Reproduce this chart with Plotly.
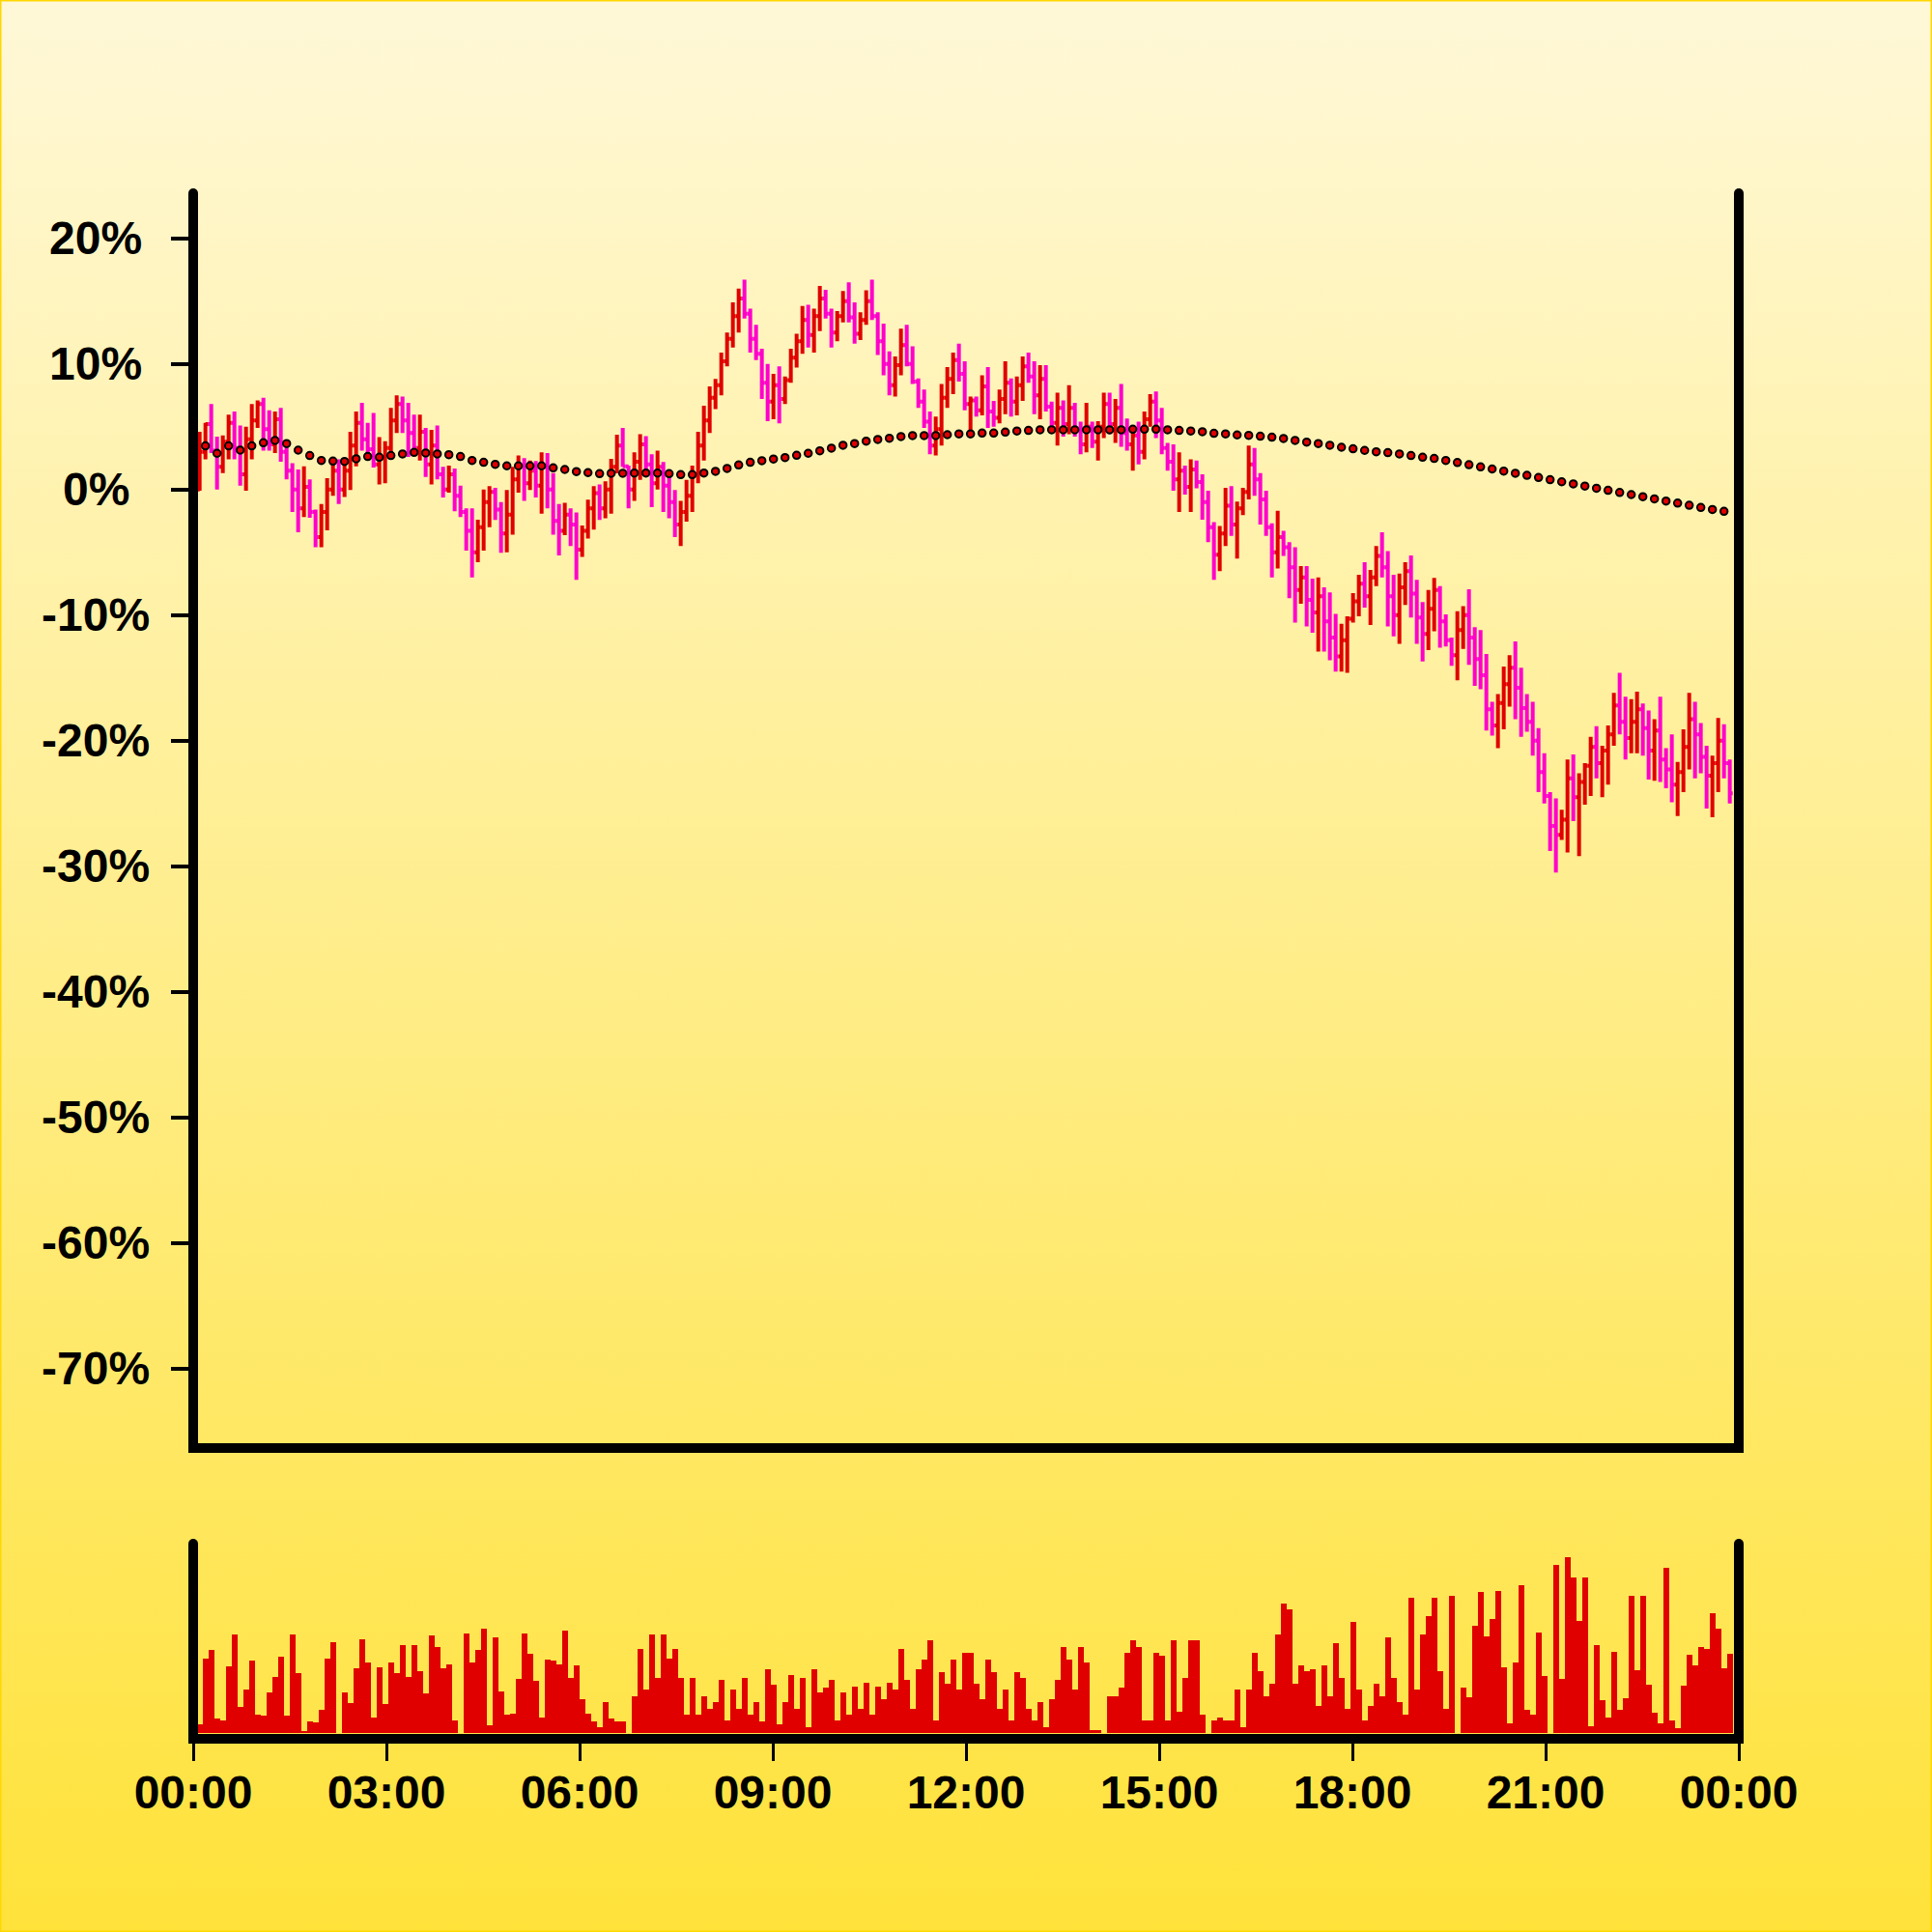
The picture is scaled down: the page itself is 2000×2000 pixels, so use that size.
import base64
import pandas as pd
import plotly.graph_objects as go

# ---------------- data (percent change vs. first open) ----------------
start_time = "2024-01-01 00:06:00"
bar_step = "324s"
day_start = "2024-01-01 00:00:00"
day_end = "2024-01-02 00:00:00"

closes = [
    3.0, 5.2, 3.1, 1.8, 3.8, 5.3, 3.3, 1.2, 4.0, 5.5,
    6.8, 4.8, 3.6, 5.6, 3.0, 1.5, 0.0, -1.5, 0.2, -1.8,
    -3.8, -1.8, 0.0, 1.5, 0.0, 1.5, 3.5, 5.3, 4.0, 3.2,
    2.0, 2.5, 3.3, 5.5, 6.8, 5.5, 4.5, 3.3, 4.6, 2.0,
    3.5, 1.2, 0.0, 1.2, -0.5, -1.8, -3.3, -5.0, -3.0, -1.0,
    -0.2, -1.6, -3.5, -2.0, 0.8, 1.9, 0.5, 1.5, 0.3, 1.8,
    0.0, -2.5, -3.3, -2.0, -2.8, -4.8, -3.3, -1.5, -0.3, -1.5,
    0.0, 1.8, 3.5, 1.85, 0.0, 2.2, 3.6, 2.0, 0.5, 1.8,
    0.3, -1.0, -2.8, -1.8, -0.5, 1.2, 3.5, 5.5, 7.3, 8.3,
    10.2, 12.0, 13.8, 15.2, 14.0, 12.0, 10.8, 8.5, 7.0, 8.3,
    7.2, 8.7, 10.5, 11.8, 13.5, 12.3, 13.8, 15.2, 14.0, 12.5,
    13.8, 15.0, 13.7, 12.4, 13.5, 15.0, 13.8, 11.8, 10.0, 8.3,
    9.9, 11.5, 10.0, 8.6, 7.0, 5.4, 3.5, 4.8, 7.3, 8.8,
    10.3, 9.2, 6.8, 7.1, 6.3, 8.2, 6.2, 5.7, 7.2, 8.5,
    7.0, 8.3, 9.8, 9.0, 7.5, 8.8, 6.6, 5.3, 6.5, 5.2,
    6.5, 4.8, 3.6, 5.0, 3.8, 5.0, 6.8, 5.2, 6.5, 4.5,
    3.6, 4.3, 3.0, 5.6, 7.0, 5.5, 3.3, 2.2, 0.8, 1.5,
    0.2, 1.6, 0.6, -1.0, -3.0, -5.2, -3.5, -1.3, -2.8, -1.5,
    -0.2, 2.0, 0.8, -0.8, -3.0, -5.0, -3.8, -4.6, -6.2, -8.0,
    -7.0, -8.8, -9.8, -8.5, -10.5, -11.8, -13.3, -12.0, -10.3, -8.9,
    -7.5, -8.5, -7.0, -5.3, -6.2, -8.5, -10.0, -7.8, -6.5, -8.3,
    -10.2, -11.5, -9.5, -8.0, -10.5, -12.0, -13.2, -11.2, -10.0, -11.8,
    -13.5, -14.8, -17.5, -18.8, -17.0, -15.5, -14.2, -15.8, -17.4, -18.5,
    -20.0, -22.5, -24.4, -26.8, -27.5, -26.3, -23.0, -24.5, -23.3, -22.0,
    -20.5, -21.8, -20.8, -19.5, -17.2, -18.5, -19.8, -18.5, -17.5, -19.0,
    -20.8, -19.2, -21.5, -22.3, -23.5, -22.5, -20.5, -18.3, -19.5, -21.3,
    -22.8, -21.8, -20.0, -21.8, -24.2,
]

highs = [
    4.6, 5.3, 6.8, 4.2, 4.3, 5.95, 6.2, 5.1, 5.0, 6.8,
    7.1, 7.3, 6.3, 6.2, 6.5, 3.9, 2.1, 1.6, 1.85, 0.8,
    -1.6, -1.15, 0.9, 2.3, 2.4, 2.2, 4.6, 6.2, 6.9, 5.3,
    6.1, 4.16, 3.85, 6.5, 7.5, 7.4, 6.9, 5.95, 5.95, 4.9,
    4.75, 5.1, 1.8, 1.9, 1.67, 0.3, -1.5, -1.5, -2.4, 0.0,
    0.26, 0.13, -1.0, -0.05, 1.8, 2.7, 2.5, 2.3, 2.26, 2.95,
    2.9, 1.3, -1.15, -1.07, -1.5, -1.84, -2.87, -0.82, 0.26, 0.4,
    0.65, 2.44, 4.36, 4.9, 1.9, 2.95, 4.4, 4.24, 2.8, 3.1,
    2.18, 1.08, -0.05, -0.9, 0.77, 1.9, 4.6, 6.67, 8.2, 8.8,
    10.9, 12.5, 14.9, 16.0, 16.7, 14.4, 13.1, 11.2, 10.0, 9.2,
    9.8, 9.0, 11.2, 12.4, 14.6, 14.7, 14.4, 16.2, 15.9, 14.4,
    14.2, 15.8, 16.5, 14.9, 14.1, 15.85, 16.7, 14.1, 13.2, 11.0,
    10.6, 12.8, 13.1, 11.4, 8.85, 7.95, 6.2, 5.8, 8.4, 9.75,
    10.9, 11.6, 10.2, 7.4, 7.4, 9.1, 9.75, 7.06, 7.95, 10.2,
    8.85, 9.0, 10.6, 10.9, 10.2, 9.9, 9.9, 7.0, 7.7, 7.1,
    8.3, 6.9, 5.4, 6.9, 5.4, 5.44, 7.7, 7.7, 7.2, 8.4,
    5.65, 5.1, 5.4, 6.2, 7.6, 7.8, 6.5, 3.7, 3.6, 2.96,
    1.9, 2.4, 2.3, 1.2, -0.1, -2.6, -2.9, 0.13, 0.26, -0.97,
    0.13, 3.5, 3.3, 1.3, -0.1, -2.7, -1.7, -3.3, -4.2, -4.6,
    -6.1, -6.1, -7.1, -7.0, -7.8, -8.2, -9.9, -10.7, -10.1, -8.25,
    -6.8, -5.8, -6.4, -4.5, -3.4, -4.9, -6.8, -6.7, -5.8, -5.25,
    -7.2, -8.97, -8.0, -7.05, -7.7, -9.95, -11.8, -9.7, -9.3, -7.95,
    -10.97, -11.2, -13.1, -16.9, -16.3, -14.1, -13.2, -12.1, -14.2, -16.3,
    -16.9, -19.0, -21.0, -24.1, -24.6, -25.5, -21.5, -21.1, -22.6, -21.8,
    -19.7, -18.85, -20.4, -18.8, -16.2, -14.6, -16.5, -16.7, -16.1, -17.05,
    -17.6, -18.3, -16.5, -20.6, -19.5, -21.7, -19.1, -16.2, -16.9, -18.6,
    -20.4, -21.2, -18.2, -18.7, -21.5,
]

lows = [
    -0.1, 2.4, 2.9, 0.0, 1.3, 2.4, 2.4, 0.3, -0.1, 2.4,
    4.9, 3.1, 3.1, 2.9, 2.2, 0.8, -1.8, -3.4, -2.2, -2.25,
    -4.6, -4.6, -3.25, -0.5, -1.15, -0.6, -0.05, 1.85, 3.1, 2.4,
    1.75, 0.4, 0.5, 2.6, 4.5, 4.5, 2.6, 2.7, 2.3, 1.0,
    0.4, 0.8, -0.64, -0.25, -1.74, -2.2, -4.87, -7.0, -5.8, -4.87,
    -3.0, -2.43, -5.05, -5.0, -3.6, -0.25, -0.9, -0.05, -0.64, -1.92,
    -1.5, -3.6, -5.25, -3.64, -4.5, -7.2, -5.38, -3.9, -3.2, -2.43,
    -2.3, -1.92, 1.28, 1.8, -1.5, -0.9, 0.77, 1.28, -1.4, 0.0,
    -1.8, -2.3, -3.8, -4.5, -2.56, -1.8, 0.5, 2.3, 4.5, 6.4,
    7.5, 9.8, 11.3, 12.5, 13.6, 10.9, 10.3, 7.2, 5.44, 5.6,
    5.26, 6.8, 8.5, 9.7, 10.8, 11.3, 10.9, 12.6, 13.6, 11.3,
    11.8, 13.3, 13.3, 11.6, 11.9, 13.1, 13.5, 10.7, 9.1, 7.5,
    7.4, 9.1, 9.8, 8.4, 6.5, 4.9, 2.8, 2.7, 3.5, 6.5,
    7.6, 8.6, 6.3, 4.6, 5.8, 5.9, 4.9, 5.0, 5.26, 6.0,
    5.8, 5.9, 7.06, 8.5, 6.0, 5.6, 6.2, 4.9, 3.5, 4.2,
    4.4, 4.2, 2.8, 2.95, 3.3, 2.3, 4.1, 4.4, 3.7, 3.4,
    3.1, 1.5, 2.0, 2.4, 5.0, 4.1, 2.8, 1.5, -0.1, -1.8,
    -0.4, -1.8, 0.1, -2.4, -4.2, -7.2, -6.5, -4.5, -3.7, -5.5,
    -2.05, -0.8, -0.5, -2.8, -3.7, -7.0, -6.3, -5.3, -8.66, -10.6,
    -9.1, -10.9, -11.4, -12.9, -12.9, -13.6, -14.5, -14.5, -14.6, -10.6,
    -10.1, -9.4, -10.8, -7.7, -7.0, -10.9, -11.7, -12.3, -9.2, -10.2,
    -12.3, -13.7, -12.8, -11.3, -12.6, -12.5, -14.05, -15.2, -12.7, -13.97,
    -15.64, -15.9, -19.2, -19.6, -20.6, -19.1, -17.3, -18.3, -19.7, -19.3,
    -21.2, -24.1, -25.0, -28.8, -30.5, -27.9, -28.9, -26.4, -29.2, -25.1,
    -24.4, -23.0, -24.5, -23.5, -20.4, -19.5, -21.5, -21.0, -21.0, -21.2,
    -23.1, -23.2, -23.3, -23.8, -24.9, -26.0, -24.1, -22.3, -23.0, -22.6,
    -25.4, -26.1, -24.1, -23.0, -25.0,
]

volumes = [
    9, 77, 86, 15, 13, 69, 102, 27, 45, 75,
    19, 18, 42, 58, 79, 18, 102, 62, 2, 12,
    11, 24, 77, 94, 0, 42, 31, 67, 97, 73,
    16, 68, 30, 73, 62, 91, 58, 91, 64, 41,
    101, 89, 67, 71, 13, 0, 103, 73, 86, 108,
    8, 99, 43, 19, 20, 56, 103, 82, 54, 16,
    76, 75, 71,
    106, 57, 70, 35, 20, 12, 6, 32, 15, 12,
    12, 0, 38, 87, 45, 102, 57, 102, 77, 87,
    57, 19, 57, 19, 38, 25, 32, 55, 13, 45,
    25, 57, 19, 32, 12, 66, 50, 9, 32, 60,
    25, 57, 6, 66, 42, 47, 55, 13, 42, 19,
    48, 25, 52, 19, 48, 35, 52, 45, 87, 55,
    25, 66, 76, 96, 13, 63, 51, 76, 45, 83,
    83, 51, 35, 76, 63, 25, 45, 13, 63, 57,
    25, 13, 32, 6, 35, 55, 89, 76, 45, 89,
    73, 3, 3, 0, 38, 38, 47, 83, 96, 89,
    13, 13, 83, 80, 13, 96, 22, 57, 96, 96,
    19, 0, 13, 16, 13, 13, 45, 6, 45, 83,
    64, 38, 51, 102, 134, 128, 51, 70, 64, 66,
    28, 70, 38, 93, 57, 25, 115, 45, 13, 28,
    51, 38, 99, 57, 32, 19, 140, 45, 102, 121,
    140, 64, 25,
    142, 0, 47, 37, 111, 146, 100, 118, 147, 68,
    10, 73, 153, 24, 19, 104, 59, 0, 174, 56,
    182, 161, 116, 161, 7, 91, 34, 16, 84, 24,
    36, 142, 65, 142, 50, 21, 10, 171, 13, 5,
    49, 81, 70, 89, 87, 124, 108, 67, 82,
]

# smooth average, one value every second bar
ma_values = [
    3.47, 2.88, 3.47, 3.13, 3.47, 3.72, 3.9, 3.65, 3.13, 2.7,
    2.31, 2.26, 2.23, 2.44, 2.62, 2.57, 2.7, 2.83, 2.95, 2.9,
    2.83, 2.77, 2.62, 2.31, 2.16, 2.0, 1.88,
    1.88, 1.88, 1.88, 1.72, 1.59, 1.42, 1.34, 1.26, 1.29, 1.29,
    1.31, 1.31, 1.31, 1.26, 1.18, 1.18, 1.31, 1.44, 1.67, 1.95,
    2.16, 2.29, 2.42, 2.54, 2.72, 2.88, 3.08,
    3.29, 3.52, 3.65, 3.85, 3.98, 4.08, 4.21, 4.29, 4.29, 4.29,
    4.36, 4.42, 4.42, 4.49, 4.49, 4.57, 4.65, 4.7, 4.75, 4.75,
    4.75, 4.75, 4.75, 4.75, 4.75, 4.75,
    4.8, 4.8, 4.8, 4.75, 4.7, 4.65, 4.6, 4.47, 4.42, 4.34,
    4.31, 4.24, 4.16, 4.06, 3.9, 3.77, 3.65, 3.52, 3.36, 3.24,
    3.11, 3.0, 2.93, 2.83, 2.7, 2.57, 2.47,
    2.31, 2.14, 1.97, 1.8, 1.63, 1.46, 1.29, 1.12, 0.95, 0.78,
    0.61, 0.44, 0.27, 0.1, -0.07, -0.24, -0.41, -0.58, -0.75, -0.92,
    -1.09, -1.26, -1.43, -1.6, -1.74,
]

y_tick_values = [20, 10, 0, -10, -20, -30, -40, -50, -60, -70]
y_tick_labels = ["20%", "10%", "0%", "-10%", "-20%", "-30%", "-40%", "-50%", "-60%", "-70%"]

# ---------------- styling ----------------
UP = "#E00000"
DOWN = "#FF00CC"
FONT = "Liberation Sans"

times = pd.date_range(start_time, periods=len(closes), freq=bar_step)
opens = [0.0] + closes[:-1]
ma_times = times[1::2]
bar_ms = pd.Timedelta(bar_step).total_seconds() * 1000

fig = go.Figure()
fig.add_trace(go.Ohlc(
    x=times, open=opens, high=highs, low=lows, close=closes,
    increasing=dict(line=dict(color=UP, width=4)),
    decreasing=dict(line=dict(color=DOWN, width=4)),
    tickwidth=0.5, xaxis="x", yaxis="y", showlegend=False, hoverinfo="skip",
))
fig.add_trace(go.Scatter(
    x=ma_times, y=ma_values, mode="markers",
    marker=dict(size=7.5, color=UP, line=dict(color="black", width=2)),
    xaxis="x", yaxis="y", showlegend=False, hoverinfo="skip",
))
fig.add_trace(go.Bar(
    x=times, y=volumes, width=bar_ms,
    marker=dict(color=UP, line=dict(width=0)),
    xaxis="x2", yaxis="y2", showlegend=False, hoverinfo="skip",
))

# gradient background as an SVG image
svg = ('<svg xmlns="http://www.w3.org/2000/svg" width="200" height="200" preserveAspectRatio="none">'
       '<defs><linearGradient id="g" x1="0" y1="0" x2="0" y2="1">'
       '<stop offset="0" stop-color="#FFF8D8"/><stop offset="1" stop-color="#FFE23A"/>'
       '</linearGradient></defs><rect width="200" height="200" fill="url(#g)"/></svg>')
svg_uri = "data:image/svg+xml;base64," + base64.b64encode(svg.encode()).decode()

W = H = 2000
ML = MR = MT = MB = 200
PW = W - ML - MR
PH = H - MT - MB
main_bottom = (1800 - 1499) / PH
vol_top = (1800 - 1598) / PH
r = 5 / PW

shapes = [
    dict(type="path", xref="paper", yref="paper",
         path=f"M0,1 L0,{main_bottom} L1,{main_bottom} L1,1",
         line=dict(color="black", width=10)),
    dict(type="path", xref="paper", yref="paper",
         path=f"M0,{vol_top} L0,0 L1,0 L1,{vol_top}",
         line=dict(color="black", width=10)),
]
for cx, cy in [(0, 1), (1, 1), (0, vol_top), (1, vol_top)]:
    shapes.append(dict(type="circle", xref="paper", yref="paper",
                       x0=cx - r, x1=cx + r, y0=cy - r, y1=cy + r,
                       fillcolor="black", line=dict(width=0)))
shapes.append(dict(type="rect", xref="paper", yref="paper",
                   x0=-ML / PW, x1=1 + MR / PW, y0=-MB / PH, y1=1 + MT / PH,
                   line=dict(color="#FFD700", width=3), fillcolor="rgba(0,0,0,0)"))

annotations = []
for v, t in zip(y_tick_values, y_tick_labels):
    annotations.append(dict(
        x=(99 - ML) / PW, xref="paper", y=v, yref="y", text=t, showarrow=False,
        xanchor="center", yanchor="middle",
        font=dict(family=FONT, size=48, color="black", weight="bold"),
    ))

fig.update_layout(
    width=W, height=H,
    margin=dict(l=ML, r=MR, t=MT, b=MB),
    paper_bgcolor="#FFEFA0",
    plot_bgcolor="rgba(0,0,0,0)",
    showlegend=False,
    bargap=0,
    images=[dict(source=svg_uri, xref="paper", yref="paper",
                 x=-ML / PW, y=1 + MT / PH, sizex=W / PW, sizey=H / PH,
                 xanchor="left", yanchor="top", sizing="stretch", layer="below")],
    shapes=shapes,
    annotations=annotations,
    xaxis=dict(domain=[0, 1], anchor="y", type="date", range=[day_start, day_end],
               showticklabels=False, ticks="", showgrid=False, zeroline=False,
               showline=False, rangeslider=dict(visible=False)),
    yaxis=dict(domain=[main_bottom, 1], anchor="x", range=[-76.33, 23.59],
               tickvals=y_tick_values, ticks="outside", ticklen=22, tickwidth=4,
               tickcolor="black", showticklabels=False, showgrid=False,
               zeroline=False, showline=False),
    xaxis2=dict(domain=[0, 1], anchor="y2", type="date", matches="x",
                tick0=day_start, dtick=3 * 3600 * 1000, tickformat="%H:%M",
                ticks="outside", ticklen=22, tickwidth=3, tickcolor="black",
                ticklabelstandoff=-9,
                tickfont=dict(family=FONT, size=48, color="black", weight="bold"),
                showgrid=False, zeroline=False, showline=False),
    yaxis2=dict(domain=[0, vol_top], anchor="x2", range=[-6, 196],
                showticklabels=False, ticks="", showgrid=False,
                zeroline=False, showline=False),
)

fig.write_html("out.html", config={"displayModeBar": False},
               post_script="document.body.style.margin='0';")
